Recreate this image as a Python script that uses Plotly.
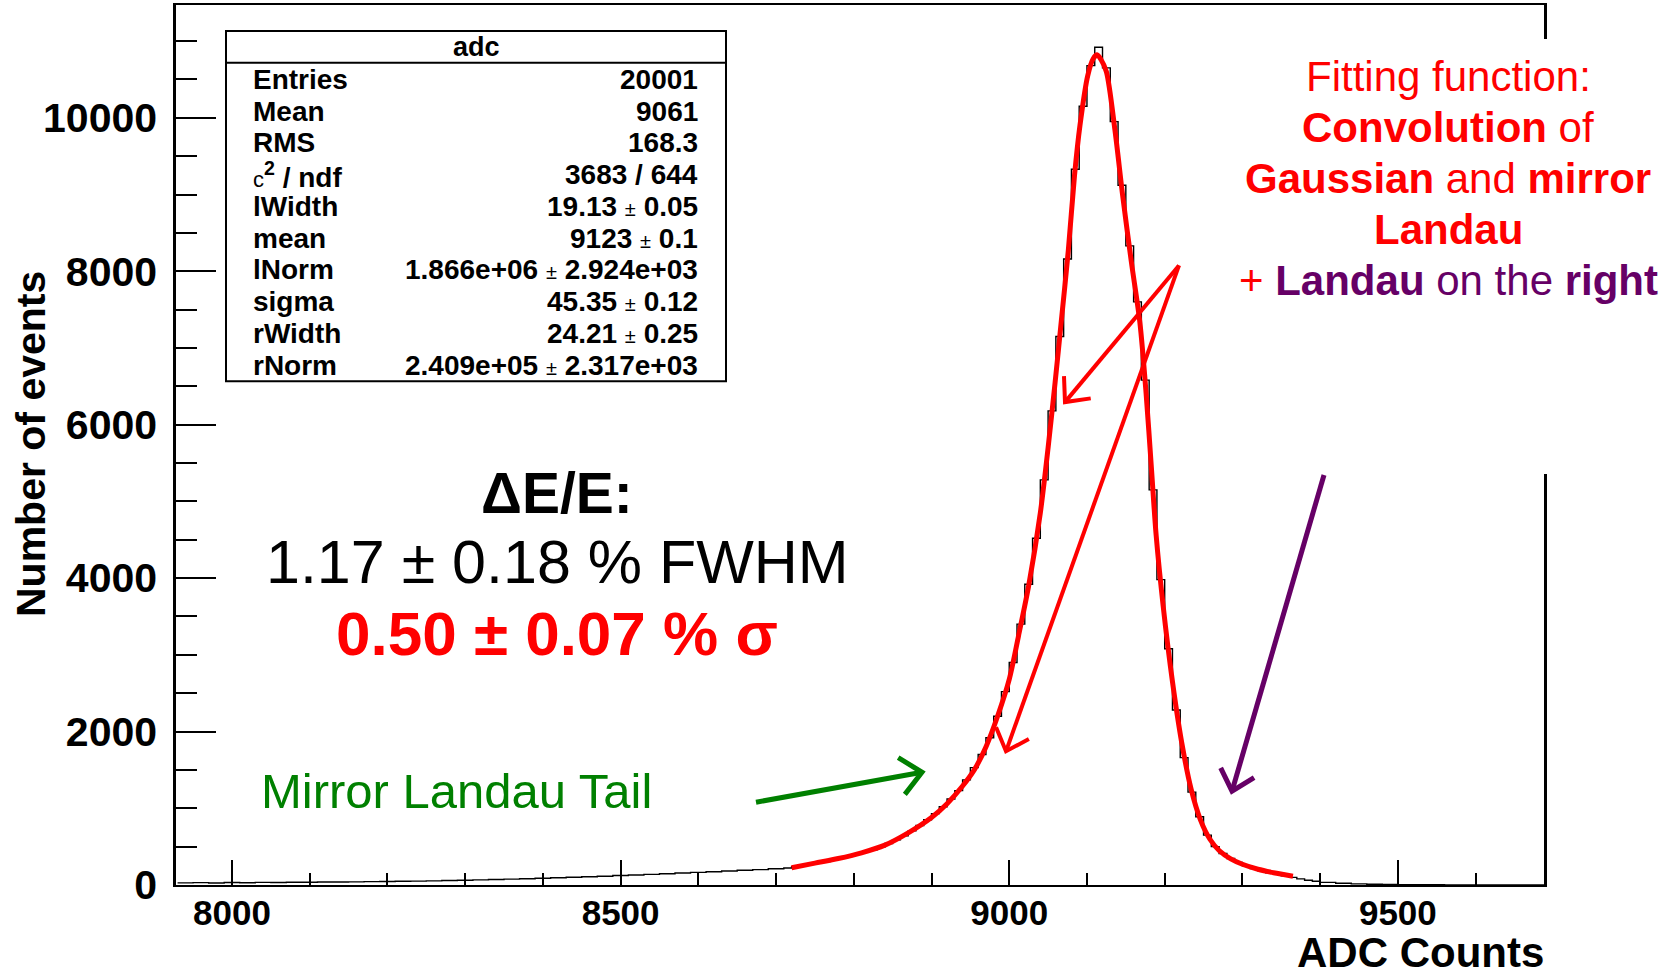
import math
import plotly.graph_objects as go

# ------------------------------------------------------------------ data
# histogram "adc": counts
left_bin_start, left_bin_w = 7930, 20     # 20-ADC bins, low tail
hist_left_counts = [28, 31, 27, 32, 30, 34, 33, 36, 35, 39, 40, 41, 44, 46, 48,
                    51, 54, 58, 62, 67, 71, 76, 82, 88, 95, 101, 108, 115, 123,
                    131, 139, 147, 156, 165, 173, 183, 192, 201, 212]
core_bin_start, core_bin_w = 8710, 10     # 10-ADC bins, peak region
hist_core_counts = [222, 240, 258, 272, 290, 305, 325, 348, 375, 400,
                    428, 460, 495, 540, 590, 640, 705, 775, 850, 930,
                    1020, 1120, 1230, 1370, 1530, 1700, 1920, 2200, 2520, 2900,
                    3400, 3920, 4520, 5280, 6180, 7150, 8160, 9330, 10150, 10680,
                    10920, 10650, 9950, 9120, 8330, 7600, 6580, 5150, 3980, 3080,
                    2280, 1660, 1210, 890, 650, 500, 410, 345, 295, 250,
                    215, 185, 160, 140, 120, 100, 80, 62, 48]
right_bin_start, right_bin_w = 9400, 20   # 20-ADC bins, high tail
hist_right_counts = [34, 22, 15, 10, 7, 5, 4, 3, 2, 2, 1, 2, 1, 1, 0]

# fitted function (red)
fit_x = [8720, 8750, 8780, 8810, 8840, 8870, 8900, 8920, 8940, 8955, 8970, 8985,
         9000, 9012, 9025, 9040, 9050, 9059, 9067, 9076, 9084, 9091, 9101, 9108,
         9113, 9118, 9125, 9136, 9146, 9157, 9168, 9176, 9183, 9189, 9198, 9210,
         9222, 9234, 9246, 9258, 9270, 9285, 9300, 9320, 9340, 9365]
fit_y = [225, 285, 345, 420, 520, 680, 880, 1060, 1290, 1500, 1800, 2200,
         2680, 3250, 3900, 4850, 5700, 6550, 7350, 8270, 9250, 9900, 10550, 10770,
         10820, 10760, 10600, 9840, 8980, 8130, 7340, 6420, 5420, 4560, 3640, 2650,
         1850, 1250, 850, 600, 450, 340, 270, 205, 160, 115]

# stats box
stats_title = "adc"
stats_labels = ["Entries", "Mean", "RMS", "CHI2", "lWidth", "mean", "lNorm",
                "sigma", "rWidth", "rNorm"]
stats_values = ["20001", "9061", "168.3", "3683 / 644", ("19.13", "0.05"),
                ("9123", "0.1"), ("1.866e+06", "2.924e+03"), ("45.35", "0.12"),
                ("24.21", "0.25"), ("2.409e+05", "2.317e+03")]

x_ticks = [8000, 8500, 9000, 9500]
y_ticks = [0, 2000, 4000, 6000, 8000, 10000]

# ------------------------------------------------------------------ geometry
W, H = 1670, 976
L, R, T, B = 176, 126, 3, 91
PW, PH = W - L - R, H - T - B
XR = [7928, 9688]
YR = [0, 11470]


def P(px, py):
    return (px - L) / PW, (H - B - py) / PH


# histogram step line
hx, hy = [], []
for start, w, counts in [(left_bin_start, left_bin_w, hist_left_counts),
                         (core_bin_start, core_bin_w, hist_core_counts),
                         (right_bin_start, right_bin_w, hist_right_counts)]:
    for i, c in enumerate(counts):
        hx.append(start + i * w)
        hy.append(c)
hx.append(right_bin_start + len(hist_right_counts) * right_bin_w)
hy.append(hist_right_counts[-1])

SANS = "Liberation Sans, Arial, sans-serif"

fig = go.Figure()
fig.add_trace(go.Scatter(x=hx, y=hy, mode="lines", line=dict(color="black", width=1.4, shape="hv"),
                         showlegend=False, hoverinfo="skip"))
fig.add_trace(go.Scatter(x=fit_x, y=fit_y, mode="lines",
                         line=dict(color="#ff0000", width=5, shape="spline", smoothing=0.8),
                         showlegend=False, hoverinfo="skip"))

shapes = []
ann = []

# white patch breaking the right frame (text box of the slide)
x0, y0 = P(1520, 473)
x1, y1 = P(1575, 37)
shapes.append(dict(type="rect", xref="paper", yref="paper", x0=x0, y0=y0, x1=x1, y1=y1,
                   fillcolor="white", line=dict(width=0), layer="above"))

# stats box
bx0, by0 = P(226, 380)
bx1, by1 = P(726, 29)
shapes.append(dict(type="rect", xref="paper", yref="paper", x0=bx0, y0=by0, x1=bx1, y1=by1,
                   fillcolor="white", line=dict(color="black", width=2), layer="above"))
_, sy = P(0, 61)
shapes.append(dict(type="line", xref="paper", yref="paper", x0=bx0, y0=sy, x1=bx1, y1=sy,
                   line=dict(color="black", width=2), layer="above"))

tx, ty = P(476, 45)
ann.append(dict(text="<b>" + stats_title + "</b>", x=tx, y=ty, xref="paper", yref="paper",
                showarrow=False, xanchor="center", yanchor="middle",
                font=dict(family=SANS, size=27, color="black")))

row_y = [78, 110, 141, 173, 205, 237, 268, 300, 332, 364]
for lab, val, py in zip(stats_labels, stats_values, row_y):
    lx, ly = P(251, py)
    if lab == "CHI2":
        ltxt = "<span style='font-size:22px'>c</span><b><sup>2</sup> / ndf</b>"
    else:
        ltxt = "<b>" + lab + "</b>"
    ann.append(dict(text=ltxt, x=lx, y=ly, xref="paper", yref="paper", showarrow=False,
                    xanchor="left", yanchor="middle",
                    font=dict(family=SANS, size=28, color="black")))
    if isinstance(val, tuple):
        vtxt = "<b>%s</b> <span style='font-size:20px'>±</span> <b>%s</b>" % val
    else:
        vtxt = "<b>" + val + "</b>"
    vx, vy = P(700, py)
    ann.append(dict(text=vtxt, x=vx, y=vy, xref="paper", yref="paper", showarrow=False,
                    xanchor="right", yanchor="middle",
                    font=dict(family=SANS, size=28, color="black")))

# resolution texts
for txt, py, size, color in [("<b>ΔE/E:</b>", 492, 57, "black"),
                             ("1.17 ± 0.18 % FWHM", 561, 61, "black"),
                             ("<b>0.50 ± 0.07 % σ</b>", 633, 62, "#ff0000")]:
    px_, py_ = P(557, py)
    ann.append(dict(text=txt, x=px_, y=py_, xref="paper", yref="paper", showarrow=False,
                    xanchor="center", yanchor="middle",
                    font=dict(family=SANS, size=size, color=color)))

gx, gy = P(456, 791)
ann.append(dict(text="Mirror Landau Tail", x=gx, y=gy, xref="paper", yref="paper",
                showarrow=False, xanchor="center", yanchor="middle",
                font=dict(family=SANS, size=49, color="#008000")))

# fitting-function description
PURP = "#660066"
lines = ["Fitting function:",
         "<b>Convolution</b> of",
         "<b>Gaussian</b> and <b>mirror</b>",
         "<b>Landau</b>",
         "+ <span style='color:%s'><b>Landau</b> on the <b>right</b></span>" % PURP]
for txt, py in zip(lines, [75, 126, 177, 228, 279]):
    px_, py_ = P(1448, py)
    ann.append(dict(text=txt, x=px_, y=py_, xref="paper", yref="paper", showarrow=False,
                    xanchor="center", yanchor="middle",
                    font=dict(family=SANS, size=42, color="#ff0000")))

# arrows drawn as shapes: shaft + open chevron head (pixel geometry)
for (tpx, tpy), (hpx, hpy), col, wid, arm in [((1179, 264), (1065, 401), "#ff0000", 4, 26),
                                              ((1179, 264), (1006, 751), "#ff0000", 4, 26),
                                              ((1324, 474), (1232, 791), PURP, 5, 26),
                                              ((756, 802), (922, 772), "#008000", 5, 28)]:
    ax0, ay0 = P(tpx, tpy)
    ax1, ay1 = P(hpx, hpy)
    shapes.append(dict(type="line", xref="paper", yref="paper", x0=ax0, y0=ay0, x1=ax1, y1=ay1,
                       line=dict(color=col, width=wid), layer="above"))
    ang = math.atan2(hpy - tpy, hpx - tpx)
    pts = []
    for s in (+1, -1):
        a = ang + math.pi + s * math.radians(42)
        pts.append(P(hpx + arm * math.cos(a), hpy + arm * math.sin(a)))
    path = "M %f,%f L %f,%f L %f,%f" % (pts[0][0], pts[0][1], ax1, ay1, pts[1][0], pts[1][1])
    shapes.append(dict(type="path", xref="paper", yref="paper", path=path,
                       fillcolor="rgba(0,0,0,0)", line=dict(color=col, width=wid), layer="above"))

# axis titles
ax_, ay_ = P(31, 443)
ann.append(dict(text="<b>Number of events</b>", x=ax_, y=ay_, xref="paper", yref="paper",
                showarrow=False, textangle=-90, xanchor="center", yanchor="middle",
                font=dict(family=SANS, size=41, color="black")))
ax_, ay_ = P(1546, 953)
ann.append(dict(text="<b>ADC Counts</b>", x=ax_, y=ay_, xref="paper", yref="paper",
                showarrow=False, xanchor="right", yanchor="middle",
                font=dict(family=SANS, size=42, color="black")))

fig.update_layout(
    width=W, height=H, margin=dict(l=L, r=R, t=T, b=B),
    paper_bgcolor="white", plot_bgcolor="white",
    shapes=shapes, annotations=ann, showlegend=False,
    xaxis=dict(range=XR, tickvals=x_ticks, ticktext=[str(v) for v in x_ticks],
               ticks="inside", ticklen=25, tickwidth=2, tickcolor="black",
               showline=True, linecolor="black", linewidth=2, mirror=True,
               showgrid=False, zeroline=False, ticklabelstandoff=-4,
               tickfont=dict(family=SANS, size=35, color="black", weight="bold"),
               minor=dict(dtick=100, tick0=0, ticks="inside", ticklen=12, tickwidth=1.5,
                          tickcolor="black", showgrid=False)),
    yaxis=dict(range=YR, tickvals=y_ticks, ticktext=[str(v) for v in y_ticks],
               ticks="inside", ticklen=40, tickwidth=2, tickcolor="black",
               showline=True, linecolor="black", linewidth=2.5, mirror=True,
               showgrid=False, zeroline=False, ticklabelstandoff=8,
               tickfont=dict(family=SANS, size=41, color="black", weight="bold"),
               minor=dict(dtick=500, tick0=0, ticks="inside", ticklen=21, tickwidth=1.5,
                          tickcolor="black", showgrid=False)),
)

fig.write_html("out.html", config={"displayModeBar": False},
               post_script="document.body.style.margin='0';")
